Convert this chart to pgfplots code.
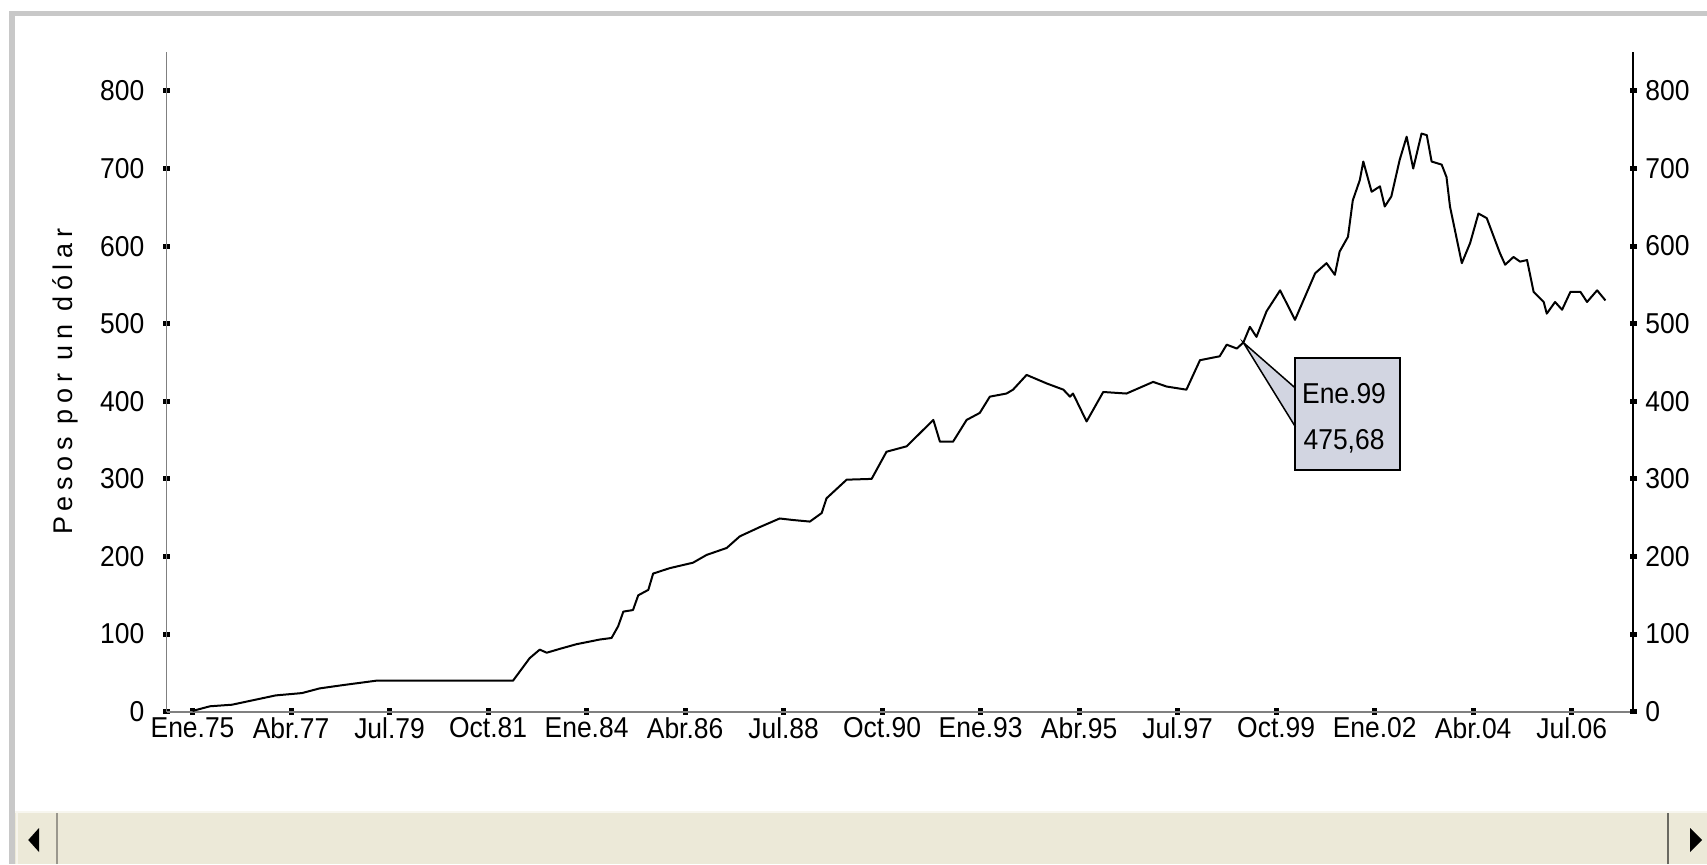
\documentclass[border=0pt]{standalone}
\usepackage{fontspec}
\setmainfont{Liberation Sans}[FakeStretch=0.92]
\newfontfamily\lblfont{Liberation Sans}[LetterSpace=21]
\usepackage{pgfplots}
\usepackage{pgfplotstable}
\pgfplotsset{compat=1.18}
\definecolor{framegray}{RGB}{200,200,200}
\definecolor{barbeige}{RGB}{236,233,216}
\definecolor{boxfill}{RGB}{210,213,225}
\definecolor{axgray}{RGB}{128,128,128}
\newcommand\tickfont{\fontsize{11.5}{13}\selectfont}

\pgfplotstableread{
x y
1975.00 1
1975.40 7
1975.90 9
1976.40 15
1976.90 21
1977.50 24
1977.90 30
1978.40 34
1979.20 40
1982.32 40
1982.70 69
1982.93 80
1983.09 76
1983.39 81
1983.77 87
1984.30 93
1984.57 95
1984.72 110
1984.84 129
1985.06 131
1985.18 150
1985.41 157
1985.52 178
1985.90 185
1986.43 192
1986.74 202
1987.20 211
1987.50 226
1987.96 238
1988.41 249
1988.72 247
1989.10 245
1989.37 256
1989.48 275
1989.94 299
1990.51 300
1990.85 335
1991.31 342
1991.92 376
1992.07 348
1992.37 348
1992.68 376
1992.98 385
1993.21 406
1993.59 410
1993.74 415
1994.05 434
1994.51 423
1994.89 415
1995.04 406
1995.11 410
1995.42 374
1995.80 412
1996.33 410
1996.94 425
1997.25 419
1997.70 415
1998.01 453
1998.46 458
1998.62 473
1998.85 468
1999.00 475.68
1999.15 496
1999.30 483
1999.53 516
1999.84 543
2000.18 505
2000.64 565
2000.90 578
2001.09 563
2001.20 593
2001.39 612
2001.50 659
2001.66 685
2001.74 709
2001.93 670
2002.12 677
2002.23 651
2002.38 664
2002.57 711
2002.73 741
2002.88 700
2003.07 745
2003.19 743
2003.30 709
2003.53 705
2003.64 689
2003.72 651
2003.99 578
2004.18 604
2004.37 642
2004.56 636
2004.86 591
2004.98 576
2005.17 586
2005.32 580
2005.48 582
2005.63 541
2005.86 528
2005.93 513
2006.12 528
2006.28 518
2006.47 541
2006.70 541
2006.85 528
2007.08 543
2007.27 530
}\datatable

\pgfplotsset{
  common/.style={
    scale only axis,
    width=586.52pt, height=263.84pt,
    at={(66.68pt,60.92pt)}, anchor=south west,
    xmin=1974.41, xmax=2007.90,
    ymin=0, ymax=850,
    ytick={0,100,...,800},
    tick align=center,
    major tick length=2.8pt,
    tick style={black,line width=2pt},
    yticklabel style={font=\tickfont},
    /pgf/number format/assume math mode=true,
    clip=false,
  }
}

\begin{document}
\begin{tikzpicture}
\path[use as bounding box] (0,0) rectangle (682.8pt,345.6pt);
\fill[white] (0,0) rectangle (682.8pt,345.6pt);
% window frame
\fill[framegray] (3.6pt,0) rectangle (6pt,341.2pt);
\fill[framegray] (3.6pt,339.2pt) rectangle (682.8pt,341.2pt);
% scrollbar
\fill[barbeige] (6pt,0) rectangle (682.8pt,21.2pt);
\draw[white!60!barbeige,line width=0.8pt] (6pt,20.8pt) -- (682.8pt,20.8pt);
\draw[white!50!barbeige,line width=0.6pt] (6.8pt,0) -- (6.8pt,20.4pt);
\draw[black!35!barbeige,line width=0.6pt] (22.8pt,0) -- (22.8pt,20.4pt);
\draw[black!55!barbeige,line width=0.8pt] (667.2pt,0) -- (667.2pt,20.4pt);
\fill[black] (11.3pt,9.6pt) -- (15.6pt,14.4pt) -- (15.6pt,4.8pt) -- cycle;
\fill[black] (680.8pt,9.6pt) -- (676pt,14.4pt) -- (676pt,4.8pt) -- cycle;

\begin{axis}[common,
  axis x line*=bottom, axis y line*=left,
  x axis line style={axgray,line width=0.8pt},
  y axis line style={axgray,line width=0.4pt},
  xtick={1975,1977.25,1979.5,1981.75,1984,1986.25,1988.5,1990.75,1993,1995.25,1997.5,1999.75,2002,2004.25,2006.5},
  xticklabels={Ene.75,Abr.77,Jul.79,Oct.81,Ene.84,Abr.86,Jul.88,Oct.90,Ene.93,Abr.95,Jul.97,Oct.99,Ene.02,Abr.04,Jul.06},
  xticklabel style={font=\tickfont,yshift=2.5pt},
  yticklabel style={xshift=-4pt},
  ylabel={\lblfont Pesos por un dólar},
  ylabel style={at={(axis description cs:-0.0694,0.5)},anchor=center,font=\fontsize{10.8}{12}\selectfont},
]
\addplot[black,line width=0.8pt,line join=round] table[x=x,y=y] {\datatable};
% callout
\fill[boxfill] (axis cs:1999,475.68) -- (axis cs:2000.19,417) -- (axis cs:2000.19,367) -- cycle;
\filldraw[fill=boxfill,draw=black,line width=0.8pt] (axis cs:2000.19,455.8) rectangle (axis cs:2002.58,311.5);
\draw[black,line width=0.6pt] (axis cs:2000.19,417) -- (axis cs:1999,475.68) -- (axis cs:2000.19,367);
\node[font=\tickfont] at (axis cs:2001.3,409.4) {Ene.99};
\node[font=\tickfont] at (axis cs:2001.3,348.8) {475,68};
\end{axis}

\begin{axis}[common,
  axis x line=none, axis y line*=right,
  y axis line style={black,line width=0.8pt},
  xtick=\empty,
]
\end{axis}
\end{tikzpicture}
\end{document}
